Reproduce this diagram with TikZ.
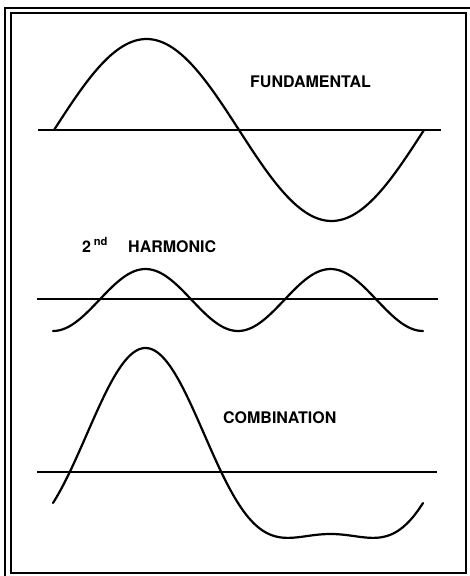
\documentclass[tikz,border=0pt]{standalone}
\usepackage{fontspec}
\setmainfont{TeX Gyre Heros}
\usepackage{xcolor}
\usepackage{tikz}
\usetikzlibrary{positioning}

\begin{document}
\begin{tikzpicture}[x=1pt, y=-1pt, font=\fontsize{16}{19}\selectfont\bfseries,
    wave/.style={line width=2.2pt, line join=round, line cap=round},
    axis/.style={line width=1.3pt}]
  \useasboundingbox (0,0) rectangle (470,576);
  % double frame (outer one runs off the page)
  \draw[line width=2.2pt] (5,576) -- (5,8) -- (470,8);
  \draw[line width=1.6pt] (11,13) rectangle (466,573);
  % fundamental
  \draw[axis] (38,130) -- (441,130);
  \draw[wave] plot[domain=0:360, samples=120] ({54+1.02778*\x}, {130-91*sin(\x)});
  \node[anchor=base west, inner sep=0] (fund) at (250,87) {FUNDAMENTAL};
  % second harmonic
  \draw[axis] (37,299) -- (438,299);
  \draw[wave] plot[domain=0:360, samples=120] ({53+1.02778*\x}, {300+31*cos(2*\x)});
  \node[anchor=base west, inner sep=0] (harm) at (128,252) {HARMONIC};
  \node[anchor=base west, inner sep=0] (ord) at (82,252) {2\,\textsuperscript{nd}};
  % combination
  \draw[axis] (37,472) -- (437,472);
  \draw[wave] plot[domain=0:360, samples=160] ({53+1.02778*\x}, {472-93*sin(\x)+31*cos(2*\x)});
  \node[anchor=base west, inner sep=0] (comb) at (223,423) {COMBINATION};
\end{tikzpicture}
\end{document}
